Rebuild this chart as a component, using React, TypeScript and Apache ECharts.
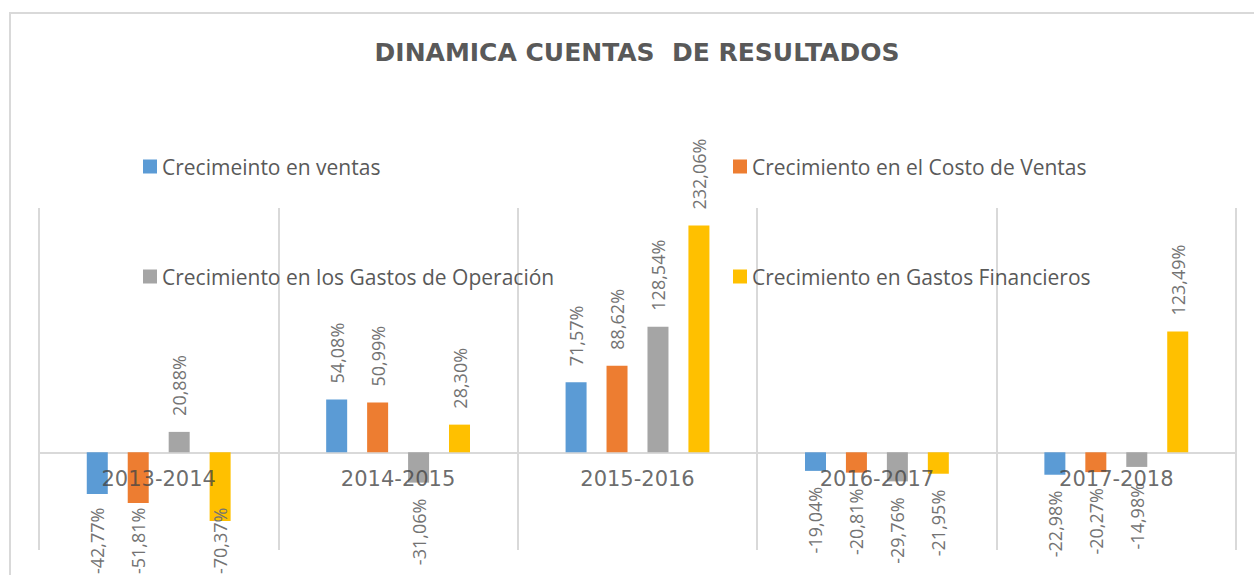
import React, { useEffect, useRef } from "react";
import * as echarts from "echarts";

const categories = ["2013-2014", "2014-2015", "2015-2016", "2016-2017", "2017-2018"];
const seriesNames = [
  "Crecimeinto en ventas",
  "Crecimiento en el Costo de Ventas",
  "Crecimiento en los Gastos de Operación",
  "Crecimiento en Gastos Financieros",
];
const ventas = [-42.77, 54.08, 71.57, -19.04, -22.98];
const costoVentas = [-51.81, 50.99, 88.62, -20.81, -20.27];
const gastosOperacion = [20.88, -31.06, 128.54, -29.76, -14.98];
const gastosFinancieros = [-70.37, 28.3, 232.06, -21.95, 123.49];
const colors = ["#5B9BD5", "#ED7D31", "#A5A5A5", "#FFC000"];
const titleText = "DINAMICA CUENTAS  DE RESULTADOS";

const W = 1254;
const H = 575;
const gridTop = 208;
const gridBottom = 25;
const gridLeft = 39;
const gridRight = 18;
const yMin = -100;
const yMax = 250;
const labelFont = '18px "Open Sans"';
const chartBottomLimit = 574;

function fmt(v: number) {
  return v.toFixed(2).replace(".", ",") + "%";
}

export default function App() {
  const ref = useRef<HTMLDivElement>(null);
  useEffect(() => {
    document.body.style.margin = "0";
    if (!ref.current) return;
    const chart = echarts.init(ref.current, undefined, { renderer: "svg" });

    const canvas = document.createElement("canvas");
    const ctx = canvas.getContext("2d")!;
    ctx.font = labelFont;
    const plotH = H - gridTop - gridBottom;
    const pxPerUnit = plotH / (yMax - yMin);
    const zeroY = gridTop + yMax * pxPerUnit;

    const makeData = (vals: number[]) =>
      vals.map((v) => {
        if (v >= 0) {
          return {
            value: v,
            label: { position: "top", align: "left", verticalAlign: "middle", distance: 16 },
          };
        }
        const barEnd = zeroY + Math.abs(v) * pxPerUnit;
        const len = ctx.measureText(fmt(v)).width;
        const d = Math.min(16, chartBottomLimit - len - barEnd);
        return {
          value: v,
          label: { position: "bottom", align: "right", verticalAlign: "middle", distance: d },
        };
      });

    const allVals = [ventas, costoVentas, gastosOperacion, gastosFinancieros];

    const legendPos = [
      { left: 143, top: 156 },
      { left: 733, top: 156 },
      { left: 143, top: 266 },
      { left: 733, top: 266 },
    ];

    const barSeries = seriesNames.map((n, i) => ({
      name: n,
      type: "bar",
      barWidth: 21,
      barGap: "95%",
      z: 2,
      data: makeData(allVals[i]),
      label: {
        show: true,
        rotate: 90,
        fontFamily: "Open Sans",
        fontSize: 18,
        color: "#737373",
        formatter: (p: any) => fmt(p.value),
      },
    }));

    const catLabelSeries = {
      name: "categoryLabels",
      type: "scatter",
      symbolSize: 0,
      silent: true,
      z: 5,
      data: categories.map((c) => ({ name: c, value: [c, 0] })),
      label: {
        show: true,
        position: "bottom",
        distance: 16,
        fontFamily: "DejaVu Sans",
        fontSize: 21,
        color: "#454545",
        formatter: (p: any) => p.name,
      },
    };

    chart.setOption({
      animation: false,
      color: colors,
      graphic: [
        {
          type: "polyline",
          shape: { points: [[10, H + 5], [10, 13], [W + 5, 13]] },
          style: { stroke: "#d9d9d9", lineWidth: 2, fill: "none" },
          silent: true,
        },
        {
          type: "text",
          x: 637,
          y: 52,
          style: {
            text: titleText,
            fill: "#595959",
            font: 'bold 25px "DejaVu Sans"',
            textAlign: "center",
            textVerticalAlign: "middle",
          },
        },
      ],
      legend: seriesNames.map((n, i) => ({
        data: [n],
        left: legendPos[i].left,
        top: legendPos[i].top,
        padding: 0,
        icon: "rect",
        itemWidth: 14,
        itemHeight: 14,
        selectedMode: false,
        textStyle: { fontFamily: "Open Sans", fontSize: 21, color: "#595959" },
      })),
      grid: {
        left: gridLeft,
        right: gridRight,
        top: gridTop,
        bottom: gridBottom,
        containLabel: false,
        outerBoundsMode: "none",
      },
      xAxis: {
        type: "category",
        data: categories,
        axisLine: { onZero: true, lineStyle: { color: "#d9d9d9", width: 2 } },
        axisTick: { show: false },
        splitLine: { show: true, lineStyle: { color: "#d9d9d9", width: 2 } },
        axisLabel: { show: false },
      },
      yAxis: {
        type: "value",
        min: yMin,
        max: yMax,
        show: false,
        splitLine: { show: false },
      },
      series: [...barSeries, catLabelSeries],
    });
    return () => chart.dispose();
  }, []);
  return <div ref={ref} style={{ width: W, height: H }} />;
}
